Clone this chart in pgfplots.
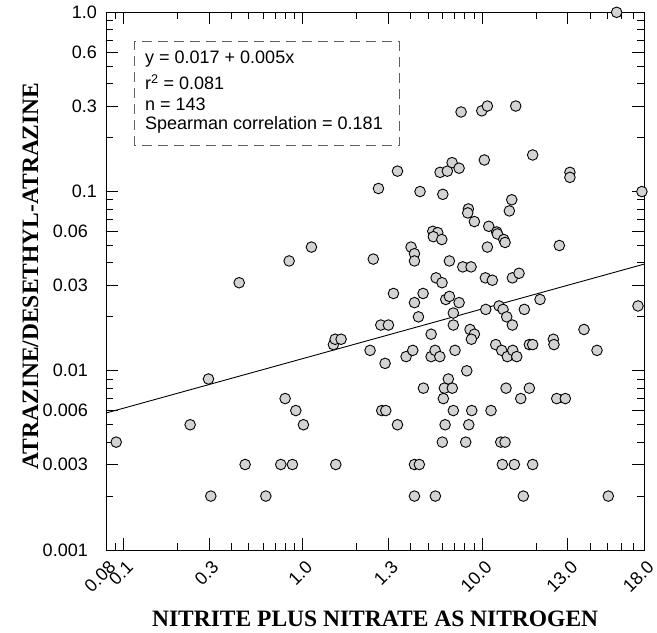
\documentclass[border=0pt]{standalone}
\usepackage{fontspec}
\setmainfont{Liberation Serif}
\newfontfamily\arial{Liberation Sans}
\usepackage{pgfplots}
\usepackage{pgfplotstable}
\pgfplotsset{compat=1.18}
\definecolor{ptfill}{RGB}{211,211,211}
\definecolor{boxgray}{RGB}{95,95,95}

% nitrite+nitrate (x) vs atrazine/desethyl-atrazine ratio (y)
\pgfplotstableread{
x y
7.62 0.278
9.94 0.282
10.68 0.30
15.37 0.30
3.37 0.13
2.64 0.104
4.50 0.100
6.03 0.0965
5.82 0.128
6.39 0.130
6.79 0.145
7.43 0.135
10.27 0.150
19.1 0.160
30.8 0.128
30.8 0.120
56.1 1.0
0.442 0.031
0.839 0.041
1.117 0.049
1.481 0.014
1.514 0.015
0.298 0.009
14.6 0.090
14.16 0.078
8.37 0.080
8.30 0.076
9.04 0.068
10.87 0.064
12.04 0.0595
12.14 0.058
13.18 0.054
13.40 0.052
10.68 0.049
26.89 0.050
5.30 0.060
5.65 0.059
5.34 0.056
5.95 0.054
4.01 0.049
4.19 0.045
4.19 0.041
2.47 0.042
6.56 0.041
7.79 0.038
8.66 0.038
5.53 0.033
5.97 0.031
10.41 0.033
11.38 0.032
14.72 0.033
16.03 0.035
3.20 0.027
4.68 0.027
4.19 0.024
6.26 0.025
6.56 0.026
7.43 0.024
6.90 0.021
4.41 0.020
10.46 0.022
12.41 0.023
13.06 0.022
13.69 0.020
14.72 0.018
17.16 0.022
20.99 0.025
2.72 0.018
3.00 0.018
6.90 0.018
5.19 0.016
8.55 0.017
9.04 0.016
8.70 0.015
1.635 0.015
2.37 0.013
2.874 0.011
3.763 0.012
4.10 0.013
5.19 0.012
5.46 0.013
5.80 0.012
7.05 0.013
11.89 0.014
12.84 0.013
13.80 0.012
14.79 0.013
15.57 0.012
18.30 0.014
19.1 0.014
24.9 0.015
25.1 0.014
6.47 0.009
8.20 0.010
0.2356 0.005
0.0912 0.004
0.797 0.007
0.914 0.006
1.008 0.005
0.477 0.003
0.754 0.003
0.875 0.003
1.527 0.003
0.307 0.002
0.622 0.002
4.70 0.008
6.15 0.008
6.81 0.008
6.07 0.007
13.57 0.008
18.30 0.008
16.39 0.007
26.0 0.007
29.04 0.007
2.755 0.006
2.90 0.006
6.90 0.006
8.74 0.006
11.19 0.006
3.37 0.005
6.21 0.005
8.41 0.005
5.99 0.004
8.09 0.004
12.68 0.004
13.40 0.004
4.19 0.003
4.46 0.003
12.94 0.003
15.10 0.003
19.1 0.003
4.19 0.002
5.48 0.002
16.94 0.002
50.4 0.002
77.6 0.100
36.9 0.017
43.6 0.013
73.8 0.023
}\samples

\begin{document}
\begin{tikzpicture}
\begin{axis}[
  scale only axis, width=538.3pt, height=537.7pt,
  xmode=log, ymode=log,
  xmin=0.08, xmax=80, ymin=0.001, ymax=1,
  clip=false,
  axis line style={line width=0.9pt},
  tick align=inside,
  major tick length=12pt, minor tick length=7pt,
  every tick/.style={black, line width=0.8pt},
  xtick={0.08,0.1,0.3,1,3,10,30,80},
  xticklabels={0.08,0.1,0.3,1.0,1.3,10.0,13.0,18.0},
  minor xtick={0.09,0.2,0.4,0.5,0.6,0.7,0.8,0.9,2,4,5,6,7,8,9,20,40,50,60,70},
  ytick={0.001,0.003,0.006,0.01,0.03,0.06,0.1,0.3,0.6,1},
  yticklabels={0.001\hspace*{9pt},0.003\hspace*{9pt},0.006\hspace*{9pt},0.01\hspace*{9pt},0.03\hspace*{9pt},0.06\hspace*{9pt},0.1,0.3,0.6,1.0},
  minor ytick={0.002,0.004,0.005,0.007,0.008,0.009,0.02,0.04,0.05,0.07,0.08,0.09,0.2,0.4,0.5,0.7,0.8,0.9},
  ticklabel style={font=\arial\fontsize{18}{20}\selectfont},
  xticklabel style={xshift=6.5pt, yshift=-14pt, rotate=45, anchor=east, inner sep=0pt},
  yticklabel style={anchor=east, inner sep=0pt, xshift=-9pt},
  xlabel={NITRITE PLUS NITRATE AS NITROGEN},
  ylabel={ATRAZINE/DESETHYL-ATRAZINE},
  label style={font=\bfseries\fontsize{23.5}{26}\selectfont},
  xlabel style={at={(axis description cs:0.5,-0.1285)}, anchor=center},
  ylabel style={at={(axis description cs:-0.1405,0.5096)}, anchor=center},
]
% fitted line
\addplot[black, line width=0.9pt] coordinates {(0.08,0.00581) (80,0.0394)};
\addplot[only marks, mark=*, mark size=5.3pt,
  mark options={fill=ptfill, draw=black, line width=0.9pt}] table {\samples};

\draw[boxgray, line width=0.9pt, dash pattern=on 10pt off 6pt]
  (axis description cs:0.0526,0.752) rectangle (axis description cs:0.5443,0.9453);
\begin{scope}[every node/.style={anchor=west, inner sep=0pt, font=\arial\fontsize{18}{20}\selectfont}]
\node at (axis description cs:0.0724,0.913) {y = 0.017 + 0.005x};
\node at (axis description cs:0.0724,0.870) {r\textsuperscript{2} = 0.081};
\node at (axis description cs:0.0724,0.829) {n = 143};
\node at (axis description cs:0.0724,0.790) {Spearman correlation = 0.181};
\end{scope}
\coordinate (bbsw) at (axis description cs:-0.1969,-0.1525);
\coordinate (bbne) at (axis description cs:1.0236,1.0229);
\end{axis}
\pgfresetboundingbox
\useasboundingbox (bbsw) rectangle (bbne);
\end{tikzpicture}
\end{document}
